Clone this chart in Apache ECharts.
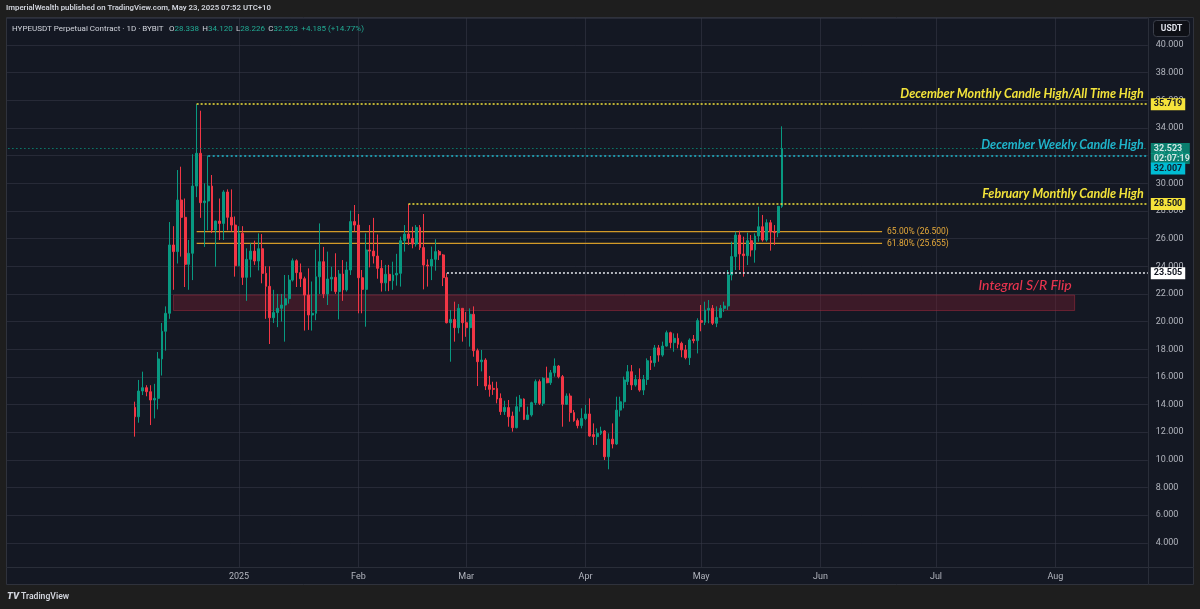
<!DOCTYPE html>
<html><head><meta charset="utf-8">
<script src="https://cdn.jsdelivr.net/npm/echarts@6/dist/echarts.min.js"></script>
<style>html,body{margin:0;padding:0;background:#1e1e1e;}#c{width:1200px;height:609px;}</style>
</head><body><div id="c"></div>
<script>
// ---------- data ----------
const axisStartDate = '2024-11-01';
const axisEndDate = '2025-08-25';
const firstCandleDate = '2024-12-05';

const opens = [13.80,13.12,14.98,15.22,14.93,14.33,14.45,17.30,19.30,20.60,25.54,25.06,28.79,27.54,24.14,24.94,29.80,32.17,28.60,28.72,
29.80,26.62,27.27,27.10,29.37,27.54,26.98,24.04,26.38,23.20,24.50,25.10,24.38,25.27,23.49,22.55,20.28,20.65,20.96,21.20,
21.66,23.00,24.40,23.54,23.10,21.92,20.48,20.60,23.24,24.33,22.00,23.08,23.20,22.17,23.44,22.29,23.73,27.23,26.98,23.17,
22.33,25.18,25.10,24.74,23.85,22.80,23.42,22.96,23.37,23.49,25.85,26.33,26.02,25.61,26.81,25.35,24.09,24.02,24.50,25.06,
24.82,23.18,19.92,20.16,19.56,20.96,19.92,19.56,20.53,17.90,17.10,17.22,15.42,15.17,15.17,14.45,13.49,13.78,13.17,12.33,
13.85,14.40,12.93,13.25,14.14,15.66,14.09,15.90,15.58,16.30,16.79,16.02,14.02,14.62,13.42,12.84,12.48,13.00,13.32,11.83,
11.68,11.92,12.09,10.23,11.50,11.15,13.60,14.20,15.66,16.38,15.42,15.82,15.05,15.82,17.17,17.03,18.10,17.58,18.23,19.20,
18.48,18.79,18.43,17.95,17.39,18.72,18.62,20.07,19.95,20.84,20.96,19.88,20.30,20.96,21.13,23.37,24.70,26.26,24.89,24.77,
25.85,25.18,26.19,26.86,25.90,27.15,26.50,26.43,28.338];
const highs = [14.21,15.78,16.38,15.40,15.40,15.50,17.80,19.90,21.10,27.20,26.90,30.96,31.20,28.90,25.90,32.10,35.719,35.25,30.00,32.007,
30.60,27.30,28.90,29.50,29.56,29.56,27.60,26.90,26.90,25.30,25.66,25.85,26.38,26.33,24.00,24.00,22.30,22.00,22.00,23.37,
23.37,24.57,24.50,24.20,23.25,23.85,22.90,25.20,27.10,25.40,25.06,23.97,24.94,23.73,24.45,24.33,28.02,28.43,27.78,23.73,
26.38,26.98,27.50,26.30,24.45,24.10,24.10,24.33,24.90,26.14,26.98,28.50,26.86,26.98,26.98,27.78,24.50,25.42,25.95,25.18,
24.89,23.505,20.84,21.44,21.27,20.96,20.70,20.96,21.10,18.05,17.95,17.35,16.07,15.65,15.65,14.81,14.28,14.33,13.49,14.57,
14.69,14.45,13.85,14.21,15.82,15.82,15.98,16.74,16.50,17.34,16.86,16.14,14.81,14.81,13.61,13.00,13.73,13.97,14.45,12.64,
12.28,12.40,12.16,11.92,12.64,14.57,14.57,16.02,16.86,16.86,16.14,16.62,16.14,17.34,17.51,18.31,18.31,18.55,19.35,19.27,
19.15,19.15,18.55,18.31,18.79,19.03,20.24,21.20,21.44,21.56,21.20,21.10,21.20,21.44,23.73,25.78,26.50,26.57,26.14,26.43,
26.26,26.38,28.31,27.71,27.40,27.35,26.98,28.36,34.12];
const lows = [11.68,12.69,14.69,14.60,12.52,13.00,13.65,16.10,17.90,20.20,22.30,24.20,24.70,22.50,22.30,23.00,29.00,27.50,25.40,26.60,
26.40,23.97,25.90,25.90,26.60,26.50,23.25,24.00,22.65,21.50,23.20,24.10,23.70,22.77,20.20,18.38,19.90,19.60,20.00,18.55,
21.30,22.90,22.50,22.50,19.35,19.40,19.35,20.10,22.00,21.70,21.20,22.20,22.00,20.16,21.50,22.17,23.37,26.50,20.60,20.60,
19.63,23.92,24.20,23.10,22.17,22.20,22.20,22.30,22.60,22.53,25.06,25.54,25.30,25.42,25.18,22.33,22.53,23.00,23.68,24.45,
22.57,19.87,17.10,18.55,19.15,18.55,18.90,18.19,17.46,15.34,16.40,15.05,14.57,14.70,14.09,13.25,13.25,12.40,12.04,12.28,
13.49,12.88,12.88,13.13,13.97,13.97,13.90,15.54,15.42,16.02,15.90,12.40,13.97,12.76,12.76,12.28,12.28,12.88,11.68,11.08,
11.08,11.80,9.99,9.32,10.83,11.08,13.13,13.73,15.42,15.05,15.30,14.93,14.69,15.42,16.50,16.74,17.10,17.46,18.19,18.07,
17.82,18.07,17.42,17.27,16.86,18.43,17.70,19.30,19.75,19.88,19.75,19.60,20.24,20.70,20.84,22.98,23.73,23.73,23.25,24.09,
24.70,24.26,25.78,25.78,25.78,25.13,25.54,26.10,28.226];
const closes = [13.12,14.98,15.22,14.93,14.33,14.45,17.30,19.30,20.60,25.54,25.06,28.79,27.54,24.14,24.94,29.80,32.17,28.60,28.72,29.80,
26.62,27.27,27.10,29.37,27.54,26.98,24.04,26.38,23.20,24.50,25.10,24.38,25.27,23.49,22.55,20.28,20.65,20.96,21.20,21.66,
23.00,24.40,23.54,23.10,21.92,20.48,20.60,23.24,24.33,22.00,23.08,23.20,22.17,23.44,22.29,23.73,27.23,26.98,23.17,22.33,
25.18,25.10,24.74,23.85,22.80,23.42,22.96,23.37,23.49,25.85,26.33,26.02,25.61,26.81,25.35,24.09,24.02,24.50,25.06,24.82,
23.18,19.92,20.16,19.56,20.96,19.92,19.56,20.53,17.90,17.10,17.22,15.34,15.10,15.10,14.40,13.49,13.80,13.12,12.33,13.85,
14.40,12.93,13.25,14.14,15.66,14.09,15.90,15.58,16.30,16.79,16.02,14.02,14.62,13.42,12.84,12.48,13.00,13.32,11.73,11.68,
11.92,12.09,10.23,11.50,11.15,13.60,14.20,15.78,16.38,15.42,15.82,15.05,15.82,17.17,17.03,18.10,17.58,18.23,19.20,18.48,
18.79,18.36,17.95,17.39,18.67,18.62,20.07,19.95,20.84,20.96,19.88,20.30,20.96,21.13,23.37,24.70,26.26,24.89,24.77,25.85,
25.18,26.19,26.86,25.90,27.15,26.50,26.43,28.338,32.523];

const monthTickDates  = ['2025-01-01','2025-02-01','2025-03-01','2025-04-01','2025-05-01','2025-06-01','2025-07-01','2025-08-01'];
const monthTickLabels = ['2025','Feb','Mar','Apr','May','Jun','Jul','Aug'];

// horizontal levels
const athLevel = 35.719, athStart = '2024-12-21';
const weeklyLevel = 32.007, weeklyStart = '2024-12-24';
const lastPrice = 32.523, countdown = '02:07:19';
const febLevel = 28.5, febStart = '2025-02-14';
const flipLevel = 23.505, flipStart = '2025-02-24';
const fibLevels = [26.5, 25.655];
const fibLabels = ['65.00%', '61.80%'];
const fibStart = '2024-12-21', fibEnd = '2025-06-17';
const zoneTop = 21.92, zoneBottom = 20.80, zoneStart = '2024-12-15', zoneEnd = '2025-08-06';

// ---------- build ----------
const DAY = 86400000;
const cats = [];
for (let t = Date.parse(axisStartDate + 'T00:00:00Z'); t <= Date.parse(axisEndDate + 'T00:00:00Z'); t += DAY)
  cats.push(new Date(t).toISOString().slice(0, 10));
const startIdx = cats.indexOf(firstCandleDate);
const source = opens.map((o, k) => [cats[startIdx + k], o, closes[k], lows[k], highs[k]]);
const lastCat = cats[cats.length - 1];

const UP = '#089981', DOWN = '#f23645';
const txtFont = 'Roboto, "Noto Sans", sans-serif';
const annFont = 'Lato, "Noto Sans", sans-serif';
const FIB_LINE = '#d29a28', FIB_TEXT = '#e6a93a';

function annotation(text, color) {
  return { show: true, position: 'insideEndTop', distance: 4, formatter: text, color: color,
           fontFamily: annFont, fontStyle: 'italic', fontWeight: 'bold', fontSize: 12.5 };
}
function axisBox(text, bg, fg) {
  return { show: true, position: 'end', distance: 3, formatter: text, backgroundColor: bg, color: fg,
           padding: [2, 3, 1, 3], fontFamily: txtFont, fontSize: 9, fontWeight: 'bold' };
}
function noLine() { return { color: 'rgba(0,0,0,0)', width: 0 }; }

const fibSeries = fibLevels.map((lv, i) => ({
  type: 'line', z: 2, silent: true, symbol: 'none', animation: false,
  data: [[fibStart, lv], [fibEnd, lv]],
  lineStyle: { color: FIB_LINE, width: 1.3, type: 'solid' },
  itemStyle: { color: FIB_LINE },
  endLabel: { show: true, distance: 5, formatter: fibLabels[i] + ' (' + lv.toFixed(3) + ')', color: FIB_TEXT,
              fontSize: 8.5, fontFamily: txtFont, padding: [0, 0, 17, 0] }
}));

const chart = echarts.init(document.getElementById('c'), null, { renderer: 'canvas' });
chart.setOption({
  backgroundColor: '#141823',
  animation: false,
  dataset: { source: source },
  grid: { left: 4.1, right: 52.2, top: 18, bottom: 42 },
  xAxis: {
    type: 'category', data: cats, boundaryGap: false,
    axisLine: { show: true, lineStyle: { color: '#2a2e39' } },
    axisTick: { show: false },
    axisLabel: {
      interval: (i, v) => monthTickDates.includes(v),
      formatter: v => monthTickLabels[monthTickDates.indexOf(v)] || '',
      color: '#b2b5be', fontSize: 9, fontFamily: txtFont, margin: 5
    },
    splitLine: { show: true, interval: (i, v) => monthTickDates.includes(v), lineStyle: { color: 'rgba(54,58,72,0.55)', width: 1 } }
  },
  yAxis: {
    type: 'value', position: 'right', min: 2.256, max: 41.952, splitNumber: 20, scale: true,
    axisLine: { show: true, lineStyle: { color: '#2a2e39' } },
    axisTick: { show: false },
    axisLabel: {
      color: '#b2b5be', fontSize: 9, fontFamily: txtFont, margin: 8,
      formatter: v => { const r = Math.round(v); return (Math.abs(v - r) < 1e-6 && r % 2 === 0 && r >= 4 && r <= 40) ? r.toFixed(3) : ''; }
    },
    splitLine: { show: true, lineStyle: { color: 'rgba(54,58,72,0.55)', width: 1 } }
  },
  series: [
    {
      type: 'line', data: [], z: 1, silent: true,
      markArea: {
        silent: true,
        data: [[
          { coord: [zoneStart, zoneTop], itemStyle: { color: 'rgba(120,30,48,0.40)', borderColor: 'rgba(160,42,62,0.55)', borderWidth: 1 } },
          { coord: [zoneEnd, zoneBottom] }
        ]]
      }
    },
    ...fibSeries,
    {
      type: 'candlestick', z: 3,
      encode: { x: 0, y: [1, 2, 3, 4] },
      barWidth: 2.4,
      itemStyle: { color: UP, color0: DOWN, borderColor: UP, borderColor0: DOWN, borderWidth: 1 },
      markLine: {
        silent: true, symbol: ['none', 'none'], animation: false,
        data: [
          // ATH
          [{ coord: [athStart, athLevel], lineStyle: { color: '#f2e33a', type: [2, 2], width: 1.5 },
             label: annotation('December Monthly Candle High/All Time High', '#f2e33a') },
           { coord: [lastCat, athLevel] }],
          { yAxis: athLevel, lineStyle: noLine(), label: axisBox(athLevel.toFixed(3), '#f5e33b', '#131722') },
          // current price
          { yAxis: lastPrice, lineStyle: { color: UP, type: [1.5, 2.5], width: 1, opacity: 0.8 },
            label: { show: true, position: 'end', distance: 3, formatter: '{a|' + lastPrice.toFixed(3) + '}\n{a|' + countdown + '}',
                     padding: [10, 0, 0, 0],
                     rich: { a: { backgroundColor: UP, color: '#ffffff', width: 33, padding: [1, 3, 1, 3], lineHeight: 10,
                                  fontSize: 9, fontWeight: 'bold', fontFamily: txtFont } } } },
          // weekly
          [{ coord: [weeklyStart, weeklyLevel], lineStyle: { color: '#1fb9cf', type: [2, 2.5], width: 1.5 },
             label: annotation('December Weekly Candle High', '#1fb4ca') },
           { coord: [lastCat, weeklyLevel] }],
          { yAxis: weeklyLevel, lineStyle: noLine(),
            label: { show: true, position: 'end', distance: 3, formatter: '{b|' + weeklyLevel.toFixed(3) + '}', padding: [26, 0, 0, 0],
                     rich: { b: { backgroundColor: '#00bcd4', color: '#0f2030', padding: [2, 3, 1, 3], fontSize: 9, fontWeight: 'bold', fontFamily: txtFont } } } },
          // february
          [{ coord: [febStart, febLevel], lineStyle: { color: '#f2e33a', type: [2, 2], width: 1.5 },
             label: annotation('February Monthly Candle High', '#f2e33a') },
           { coord: [lastCat, febLevel] }],
          { yAxis: febLevel, lineStyle: noLine(), label: axisBox(febLevel.toFixed(3), '#f5e33b', '#131722') },
          // 23.505
          [{ coord: [flipStart, flipLevel], lineStyle: { color: '#e6e8ee', type: [2, 2], width: 1.5 }, label: { show: false } },
           { coord: [lastCat, flipLevel] }],
          { yAxis: flipLevel, lineStyle: noLine(), label: axisBox(flipLevel.toFixed(3), '#ffffff', '#131722') },
          // zone caption
          [{ coord: [zoneStart, zoneTop], lineStyle: noLine(),
             label: { show: true, position: 'insideEndTop', distance: 3, formatter: 'Integral S/R Flip', color: '#e8344e',
                      fontFamily: annFont, fontStyle: 'italic', fontWeight: 500, fontSize: 14 } },
           { coord: [zoneEnd, zoneTop] }]
        ]
      }
    }
  ],
  graphic: [
    { type: 'rect', z: 100, shape: { x: 0, y: 0, width: 1200, height: 17 }, style: { fill: '#1e1e1e' } },
    { type: 'rect', z: 100, shape: { x: 0, y: 585, width: 1200, height: 24 }, style: { fill: '#1e1e1e' } },
    { type: 'rect', z: 100, shape: { x: 0, y: 0, width: 6, height: 609 }, style: { fill: '#1e1e1e' } },
    { type: 'rect', z: 100, shape: { x: 1194, y: 0, width: 6, height: 609 }, style: { fill: '#1e1e1e' } },
    { type: 'rect', z: 101, shape: { x: 6.5, y: 17.5, width: 1187, height: 567 }, style: { fill: 'none', stroke: '#2f323c', lineWidth: 1 } },
    { type: 'line', z: 101, shape: { x1: 6, y1: 567.5, x2: 1194, y2: 567.5 }, style: { stroke: '#2a2e39', lineWidth: 1 } },
    { type: 'line', z: 101, shape: { x1: 1148.5, y1: 17, x2: 1148.5, y2: 585 }, style: { stroke: '#2a2e39', lineWidth: 1 } },
    { type: 'text', z: 102, left: 6, top: 4,
      style: { text: 'ImperialWealth published on TradingView.com, May 23, 2025 07:52 UTC+10', fill: '#d1d4dc',
               font: '600 7.8px ' + txtFont } },
    { type: 'text', z: 102, left: 12, top: 23,
      style: { text: '{t|HYPEUSDT Perpetual Contract · 1D · BYBIT} {l| O}{v|28.338} {l|H}{v|34.120} {l|L}{v|28.226} {l|C}{v|32.523} {v|+4.185 (+14.77%)}',
               rich: { t: { fill: '#d1d4dc', font: '8px ' + txtFont }, l: { fill: '#d1d4dc', font: '8px ' + txtFont },
                       v: { fill: '#22ab94', font: '8px ' + txtFont } } } },
    { type: 'rect', z: 102, shape: { x: 1153.5, y: 20.5, width: 36, height: 16, r: 3 }, style: { fill: '#0e1016', stroke: '#3a3e49', lineWidth: 1 } },
    { type: 'text', z: 103, x: 1171.5, y: 28.5,
      style: { text: 'USDT', fill: '#e0e3eb', font: 'bold 8.5px ' + txtFont, textAlign: 'center', textVerticalAlign: 'middle' } },
    { type: 'text', z: 102, x: 7, y: 597,
      style: { text: 'TV', fill: '#d1d4dc', font: 'italic 900 9.5px ' + txtFont, textVerticalAlign: 'middle' } },
    { type: 'text', z: 102, x: 21, y: 597,
      style: { text: 'TradingView', fill: '#d1d4dc', font: '600 8.6px ' + txtFont, textVerticalAlign: 'middle' } }
  ]
});
</script></body></html>
